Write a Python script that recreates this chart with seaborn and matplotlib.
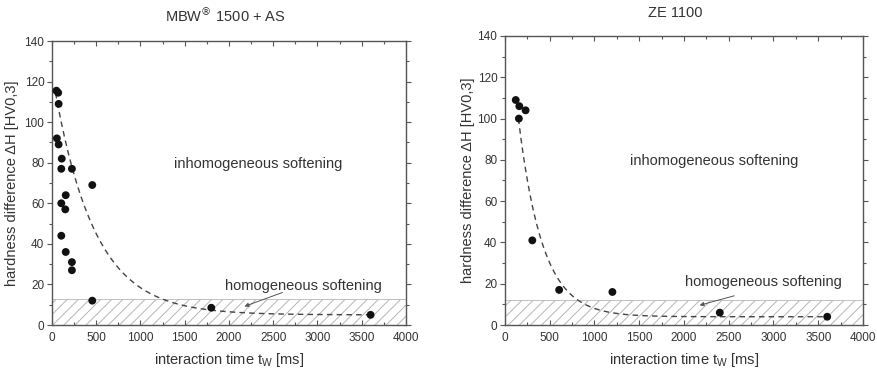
import numpy as np
import pandas as pd
import matplotlib
matplotlib.use("Agg")
import matplotlib.pyplot as plt
import seaborn as sns
from matplotlib.ticker import MultipleLocator

sns.set_theme(style="white")
plt.rcParams["font.family"] = ["Liberation Sans", "DejaVu Sans"]
plt.rcParams["hatch.linewidth"] = 0.7

# --- MBW 1500 + AS measurements ---
mbw_time = [50, 70, 75, 55, 75, 110, 105, 225, 455, 155, 105, 150, 105, 155, 225, 225, 455, 1800, 3600]
mbw_dh = [115.5, 114.5, 109, 92, 89, 82, 77, 77, 69, 64, 60, 57, 44, 36, 31, 27, 12, 8.5, 5]
# exponential decay fit: dH = y0 + A * exp(-t / tau)
mbw_fit = dict(y0=5.0, A=119.4, tau=457.0, t_start=40, t_end=3600)
mbw_band = 13.0

# --- ZE 1100 measurements ---
ze_time = [120, 160, 155, 230, 305, 605, 1200, 2400, 3600]
ze_dh = [109, 106, 100, 104, 41, 17, 16, 6, 4]
ze_fit = dict(y0=4.0, A=168.0, tau=268.0, t_start=150, t_end=3600)
ze_band = 12.0

text_col = "#333333"
spine_col = "#555555"

fig = plt.figure(figsize=(8.78, 3.71), dpi=100)
ax1 = fig.add_axes([52 / 878, 1 - 325 / 371, 354 / 878, 284 / 371])
ax2 = fig.add_axes([505 / 878, 1 - 325 / 371, 358 / 878, 289 / 371])


def draw_panel(ax, t, dh, fit, band, inh_xy, hom_xy, arrow_from, arrow_to, ylab_x, xlab_y):
    ax.axhspan(0, band, facecolor="none", edgecolor="#b5b5b5", hatch="///", lw=0.6, zorder=0)
    tt = np.linspace(fit["t_start"], fit["t_end"], 400)
    curve = pd.DataFrame({"t": tt, "dh": fit["y0"] + fit["A"] * np.exp(-tt / fit["tau"])})
    sns.lineplot(data=curve, x="t", y="dh", ax=ax, color="#444444", lw=1.0,
                 linestyle=(0, (4, 3)), zorder=2)
    pts = pd.DataFrame({"t": t, "dh": dh})
    sns.scatterplot(data=pts, x="t", y="dh", ax=ax, color="#111111", s=32,
                    edgecolor="none", zorder=3)
    ax.set_xlim(0, 4000)
    ax.set_ylim(0, 140)
    ax.xaxis.set_major_locator(MultipleLocator(500))
    ax.xaxis.set_minor_locator(MultipleLocator(250))
    ax.yaxis.set_major_locator(MultipleLocator(20))
    ax.yaxis.set_minor_locator(MultipleLocator(10))
    ax.tick_params(which="both", top=True, right=True, bottom=True, left=True,
                   direction="in", colors=spine_col, labelcolor=text_col, labelsize=8.5, width=0.8)
    ax.tick_params(axis="y", which="both", direction="out")
    ax.tick_params(which="major", length=3.5, pad=2)
    ax.tick_params(axis="x", which="major", pad=5)
    ax.tick_params(which="minor", length=2)
    for s in ax.spines.values():
        s.set_color(spine_col)
        s.set_linewidth(1.0)
    ax.set_xlabel("interaction time t$_\\mathregular{W}$ [ms]", fontsize=10.5, color=text_col,
                  va="center")
    ax.set_ylabel("hardness difference \u0394H [HV0,3]", fontsize=10.5, color=text_col,
                  va="center")
    ax.xaxis.set_label_coords(0.5, xlab_y)
    ax.yaxis.set_label_coords(ylab_x, 0.5)
    ax.text(*inh_xy, "inhomogeneous softening", fontsize=10.5, color=text_col,
            ha="center", va="center")
    ax.text(*hom_xy, "homogeneous softening", fontsize=10.5, color=text_col,
            ha="center", va="center")
    ax.annotate("", xy=arrow_to, xytext=arrow_from,
                arrowprops=dict(arrowstyle="-|>", color="#555555", lw=0.7, mutation_scale=6))


draw_panel(ax1, mbw_time, mbw_dh, mbw_fit, mbw_band,
           (2333, 79.3), (2841, 19.4), (2634, 16.5), (2145, 8.7),
           (12 - 52) / 354, -(360 - 325) / 284)
draw_panel(ax2, ze_time, ze_dh, ze_fit, ze_band,
           (2336, 79.4), (2890, 20.6), (2591, 14.5), (2144, 9.2),
           (468 - 505) / 358, -(360 - 325) / 289)

fig.text(225 / 878, 1 - 15 / 371, "MBW$^{\u00ae}$ 1500 + AS", fontsize=10.5, color=text_col,
         ha="center", va="center")
fig.text(675 / 878, 1 - 13 / 371, "ZE 1100", fontsize=10.5, color=text_col,
         ha="center", va="center")

fig.savefig("out.png", dpi=100)
